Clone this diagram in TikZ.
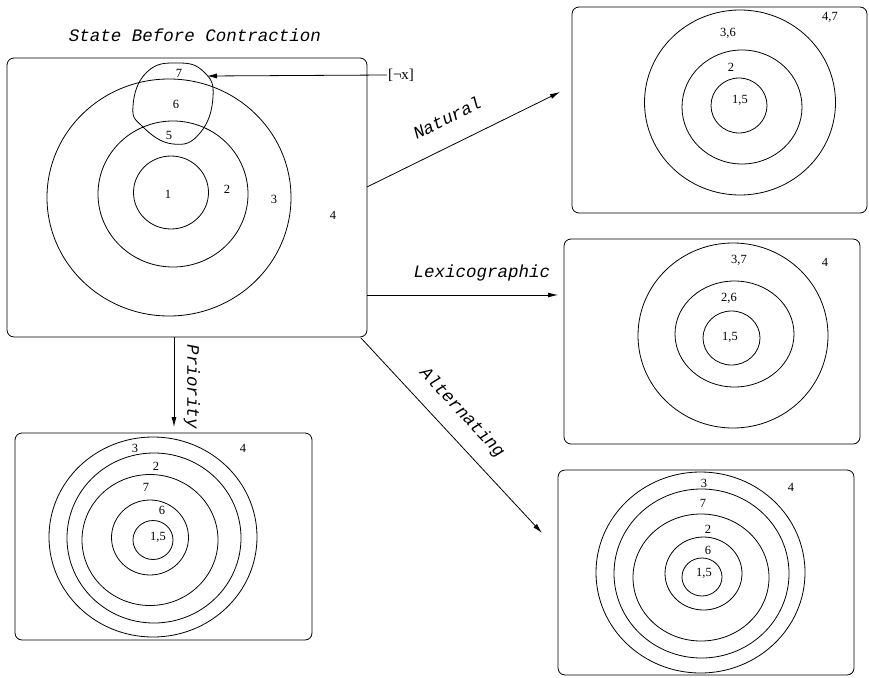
\documentclass[tikz,border=0pt]{standalone}
\usepackage{fontspec}
\setmainfont{Liberation Serif}
\newfontfamily\orderfont{Liberation Mono}
\usepackage{tikz}
\usetikzlibrary{arrows.meta}
\tikzset{
  statebox/.style={draw=black,rounded corners=7pt,line width=0.8pt,inner sep=0pt,outer sep=0pt},
  ringline/.style={draw=black,line width=0.8pt},
  ranklabel/.style={font=\fontsize{12.5}{14}\selectfont,inner sep=1pt},
  orderlabel/.style={font=\orderfont\itshape\fontsize{17.5}{20}\selectfont,inner sep=1pt},
  orderarrow/.style={-{Latex[length=10pt,width=5pt]},line width=0.8pt}
}

\begin{document}
\begin{tikzpicture}[x=1pt,y=-1pt]
  \useasboundingbox (0,0) rectangle (869,677);
  % state before contraction
  \node[orderlabel] (title) at (195,35) {State Before Contraction};
  \node[statebox,minimum width=360pt,minimum height=279pt] (before) at (187,197.5) {};
  \draw[ringline] (169,197.5) ellipse [x radius=122pt,y radius=118.5pt];
  \draw[ringline] (173,194) ellipse [x radius=75pt,y radius=73pt];
  \draw[ringline] (171,192.5) ellipse [x radius=37.5pt,y radius=36.5pt];
  \draw[ringline] plot[smooth cycle,tension=0.8] coordinates
    {(178,63) (204,72) (213,97) (200,133) (173,144) (143,127) (133,106) (147,72)};
  \node[ranklabel] (b7) at (179,73) {7};
  \node[ranklabel] (b6) at (176,104) {6};
  \node[ranklabel] (b5) at (169,135) {5};
  \node[ranklabel] (b1) at (168,194) {1};
  \node[ranklabel] (b2) at (227,189) {2};
  \node[ranklabel] (b3) at (274,199) {3};
  \node[ranklabel] (b4) at (333,215) {4};
  \node[font=\fontsize{15}{17}\selectfont,inner sep=1pt] (negx) at (401,75) {[¬x]};
  \coordinate (xhit) at (207,76);
  \draw[orderarrow] (negx.west) -- (xhit);

  % natural
  \node[statebox,minimum width=295pt,minimum height=206pt] (natural) at (719.5,110) {};
  \draw[ringline] (740,102.5) ellipse [x radius=95.5pt,y radius=92.5pt];
  \draw[ringline] (742,107) ellipse [x radius=60pt,y radius=57pt];
  \draw[ringline] (739,105.5) ellipse [x radius=28pt,y radius=27.5pt];
  \node[ranklabel] (n47) at (830,17) {4,7};
  \node[ranklabel] (n36) at (728,33) {3,6};
  \node[ranklabel] (n2) at (731,67) {2};
  \node[ranklabel] (n15) at (740,100) {1,5};

  % lexicographic
  \node[statebox,minimum width=296pt,minimum height=205pt] (lexi) at (712,341.5) {};
  \draw[ringline] (733,335.5) ellipse [x radius=95pt,y radius=92.5pt];
  \draw[ringline] (734.5,334) ellipse [x radius=59.5pt,y radius=53pt];
  \draw[ringline] (731.5,338) ellipse [x radius=28.5pt,y radius=27pt];
  \node[ranklabel] (l37) at (739,260) {3,7};
  \node[ranklabel] (l4) at (825,262) {4};
  \node[ranklabel] (l26) at (729,298) {2,6};
  \node[ranklabel] (l15) at (730,337) {1,5};

  % alternating
  \node[statebox,minimum width=296pt,minimum height=205pt] (alter) at (706,572.5) {};
  \draw[ringline] (700.5,572.5) ellipse [x radius=104.5pt,y radius=100.5pt];
  \draw[ringline] (701.5,573.5) ellipse [x radius=87.5pt,y radius=84.5pt];
  \draw[ringline] (701,577.5) ellipse [x radius=68pt,y radius=63.5pt];
  \draw[ringline] (703.5,573.5) ellipse [x radius=38.5pt,y radius=36.5pt];
  \draw[ringline] (702,577) ellipse [x radius=20pt,y radius=19pt];
  \node[ranklabel] (a3) at (704,483) {3};
  \node[ranklabel] (a4) at (791,487) {4};
  \node[ranklabel] (a7) at (703,503) {7};
  \node[ranklabel] (a2) at (708,529) {2};
  \node[ranklabel] (a6) at (708,550) {6};
  \node[ranklabel] (a15) at (704,573) {1,5};

  % priority
  \node[statebox,minimum width=297pt,minimum height=207pt] (prio) at (163.5,536.5) {};
  \draw[ringline] (153,537) ellipse [x radius=104pt,y radius=100pt];
  \draw[ringline] (154,538) ellipse [x radius=87pt,y radius=85pt];
  \draw[ringline] (150,540) ellipse [x radius=68pt,y radius=65.5pt];
  \draw[ringline] (150,537.5) ellipse [x radius=38.5pt,y radius=37.5pt];
  \draw[ringline] (153,540) ellipse [x radius=20pt,y radius=19.5pt];
  \node[ranklabel] (p3) at (135,448) {3};
  \node[ranklabel] (p4) at (243,448) {4};
  \node[ranklabel] (p2) at (156,466) {2};
  \node[ranklabel] (p7) at (146,487) {7};
  \node[ranklabel] (p6) at (162,510) {6};
  \node[ranklabel] (p15) at (158,537) {1,5};

  % contraction arrows
  \draw[orderarrow] ([yshift=10.5pt]before.east) -- ([xshift=-12pt,yshift=18pt]natural.west);
  \draw[orderarrow] ([yshift=-97.5pt]before.east) -- ([xshift=-6pt,yshift=46.5pt]lexi.west);
  \draw[orderarrow] ([xshift=-6pt,yshift=-1pt]before.south east) -- ([xshift=-16pt,yshift=39.5pt]alter.west);
  \draw[orderarrow] ([xshift=-13pt]before.south) -- ([xshift=10.5pt,yshift=6pt]prio.north);
  \node[orderlabel,rotate=26.3] (natlabel) at (447,118) {Natural};
  \node[orderlabel] (lexlabel) at (482,273) {Lexicographic};
  \node[orderlabel,rotate=-47] (altlabel) at (462,413) {Alternating};
  \node[orderlabel,rotate=-90] (priolabel) at (192,387) {Priority};
\end{tikzpicture}
\end{document}
